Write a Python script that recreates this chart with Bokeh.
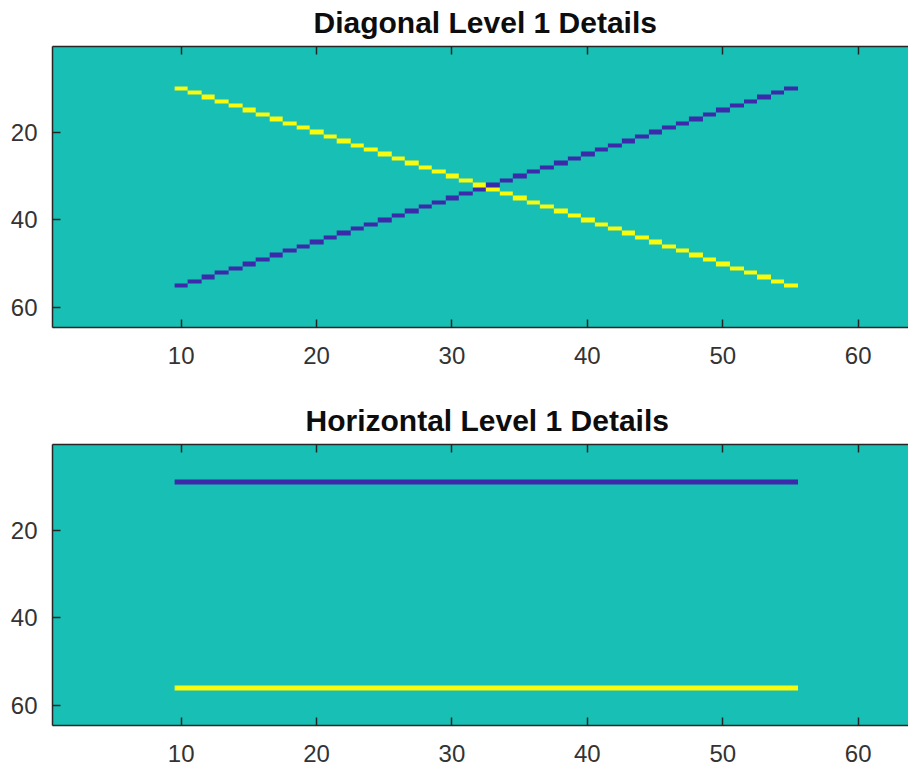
import numpy as np
from bokeh.plotting import figure
from bokeh.layouts import column
from bokeh.models import Range1d, FixedTicker, LinearAxis, LinearColorMapper, Title
from bokeh.embed import file_html
from bokeh.resources import INLINE

# ---- data ----
img_size = 64
line_cols = [10, 11, 12, 13, 14, 15, 16, 17, 18, 19, 20, 21, 22, 23, 24, 25,
             26, 27, 28, 29, 30, 31, 32, 33, 34, 35, 36, 37, 38, 39, 40, 41,
             42, 43, 44, 45, 46, 47, 48, 49, 50, 51, 52, 53, 54, 55]
diag_yellow_rows = [10, 11, 12, 13, 14, 15, 16, 17, 18, 19, 20, 21, 22, 23, 24, 25,
                    26, 27, 28, 29, 30, 31, 32, 33, 34, 35, 36, 37, 38, 39, 40, 41,
                    42, 43, 44, 45, 46, 47, 48, 49, 50, 51, 52, 53, 54, 55]
diag_blue_rows = [55, 54, 53, 52, 51, 50, 49, 48, 47, 46, 45, 44, 43, 42, 41, 40,
                  39, 38, 37, 36, 35, 34, 33, 32, 31, 30, 29, 28, 27, 26, 25, 24,
                  23, 22, 21, 20, 19, 18, 17, 16, 15, 14, 13, 12, 11, 10]
horiz_blue_row = 9
horiz_yellow_row = 56
high_value = 1.0
low_value = -1.0

x_ticks = [10, 20, 30, 40, 50, 60]
y_ticks = [20, 40, 60]
titles = ["Diagonal Level 1 Details", "Horizontal Level 1 Details"]

palette = ["#3B2AAA", "#18BFB4", "#F9FB0E"]

# ---- build images ----
diag = np.zeros((img_size, img_size))
for c, r in zip(line_cols, diag_yellow_rows):
    diag[r - 1, c - 1] = high_value
for c, r in zip(line_cols, diag_blue_rows):
    diag[r - 1, c - 1] = low_value

horiz = np.zeros((img_size, img_size))
for c in line_cols:
    horiz[horiz_blue_row - 1, c - 1] = low_value
    horiz[horiz_yellow_row - 1, c - 1] = high_value

FONT = "Liberation Sans"
AX = "#262626"
FRAME_W = 856
PX_PER_UNIT = 13.54


def make(img, title, title_offset, top_border, bottom_border):
    p = figure(output_backend="svg", toolbar_location=None,
               frame_width=FRAME_W, frame_height=281,
               min_border_left=52, min_border_right=0,
               min_border_top=top_border, min_border_bottom=bottom_border,
               x_range=Range1d(0.5, 0.5 + FRAME_W / PX_PER_UNIT),
               y_range=Range1d(64.5, 0.5),
               x_axis_location="below", y_axis_location="left")
    p.title = Title(text=title, align="left", offset=title_offset, standoff=11,
                    vertical_align="top",
                    text_font=FONT, text_font_size="30px", text_font_style="bold",
                    text_color="#0d0d0d")
    mapper = LinearColorMapper(palette=palette, low=low_value, high=high_value)
    p.image(image=[img], x=0.5, y=0.5, dw=img_size, dh=img_size, color_mapper=mapper)
    p.outline_line_color = None
    p.grid.visible = False
    p.background_fill_color = "#18BFB4"

    top = LinearAxis()
    p.add_layout(top, "above")

    for ax in p.xaxis:
        ax.ticker = FixedTicker(ticks=x_ticks)
    p.yaxis.ticker = FixedTicker(ticks=y_ticks)
    for ax in list(p.xaxis) + list(p.yaxis):
        ax.axis_line_color = AX
        ax.axis_line_width = 1.5
        ax.major_tick_line_color = AX
        ax.major_tick_line_width = 1.5
        ax.major_tick_in = 8
        ax.major_tick_out = 0
        ax.minor_tick_line_color = None
        ax.major_label_text_font = FONT
        ax.major_label_text_font_size = "24px"
        ax.major_label_text_color = "#333333"
    p.yaxis.major_label_standoff = 15
    p.below[0].major_label_standoff = 19
    top.major_label_text_font_size = "1px"
    top.major_label_text_color = None
    top.major_label_standoff = 0
    return p


p1 = make(diag, titles[0], 261, 46, 63)
p2 = make(horiz, titles[1], 253, 54, 43)
layout = column(p1, p2, spacing=0)

open("out.html", "w").write(file_html(layout, INLINE))
